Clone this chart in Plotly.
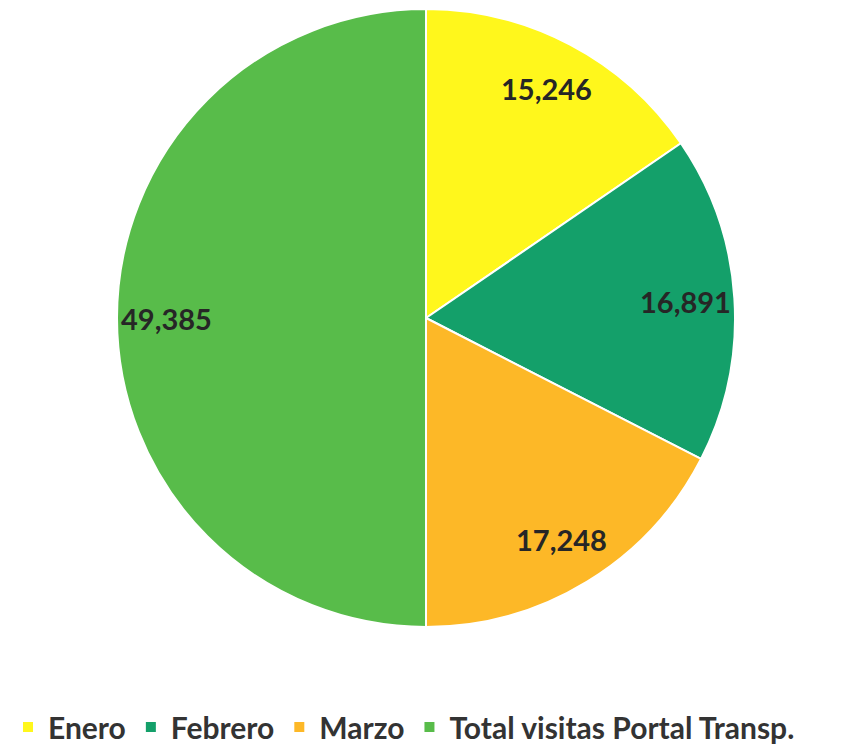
import math
import plotly.graph_objects as go

labels = ['Enero', 'Febrero', 'Marzo', 'Total visitas Portal Transp.']
values = [15246, 16891, 17248, 49385]
colors = ['#FFF71C', '#14A06A', '#FDB827', '#58BC4A']

W, H = 854, 749
OFF = 8  # page body margin around the plot div
# pie placement in figure pixels (center and radius)
CX, CY, R = 426 - OFF, 318 - OFF, 309
LABEL_R = 0.84

fig = go.Figure()
fig.add_trace(go.Pie(
    labels=labels,
    values=values,
    sort=False,
    direction='clockwise',
    rotation=0,
    marker={'colors': colors, 'line': {'color': 'white', 'width': 2}},
    textinfo='none',
    hoverinfo='label+value',
    domain={'x': [(CX - R) / W, (CX + R) / W],
            'y': [max(0, (H - CY - R) / H), min(1, (H - CY + R) / H)]},
))

# data labels along the mid-angle of each slice
total = sum(values)
annotations = []
cum = 0
for v in values:
    mid = (cum + v / 2) / total * 2 * math.pi
    cum += v
    px = CX + LABEL_R * R * math.sin(mid)
    py = CY - LABEL_R * R * math.cos(mid)
    annotations.append(dict(
        x=px / W, y=(H - py) / H, xref='paper', yref='paper',
        xanchor='center', yanchor='middle',
        text='{:,}'.format(v), showarrow=False,
        font={'family': 'Lato', 'size': 29, 'color': '#262626', 'weight': 'bold'},
    ))

fig.update_layout(
    width=W, height=H,
    margin={'l': 0, 'r': 0, 't': 0, 'b': 0},
    paper_bgcolor='white',
    annotations=annotations,
    showlegend=True,
    legend={
        'orientation': 'h',
        'x': 0, 'xanchor': 'left',
        'y': (H - 727 + OFF) / H, 'yanchor': 'middle',
        'font': {'family': 'Lato', 'size': 30, 'color': '#333333', 'weight': 'bold'},
        'itemwidth': 30,
    },
)

fig.write_html('out.html')
